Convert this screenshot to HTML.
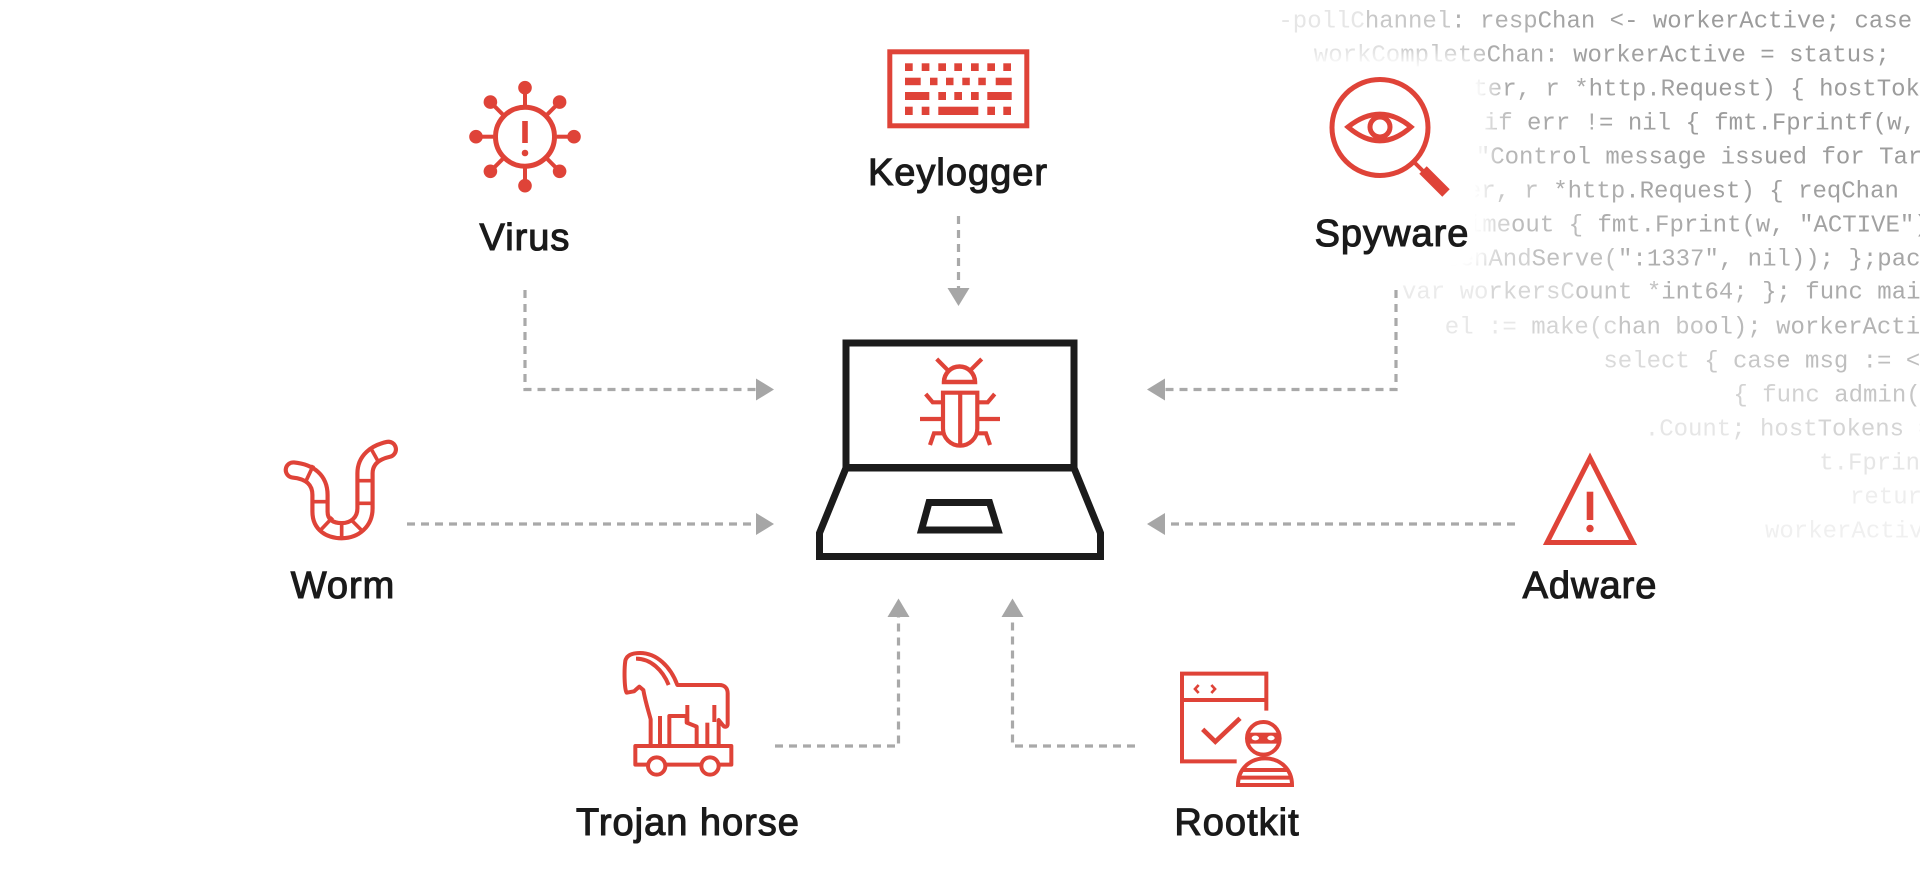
<!DOCTYPE html>
<html>
<head>
<meta charset="utf-8">
<style>
  html, body { margin:0; padding:0; }
  body { width:1920px; height:890px; overflow:hidden; background:#ffffff; position:relative; }
  svg { position:absolute; left:0; top:0; }
  .patch { position:absolute; background:#fff; box-shadow:0 0 18px 14px #fff; border-radius:20px; }
  .code text { white-space:pre; }
</style>
</head>
<body>
<svg class="code" width="1920" height="890" viewBox="0 0 1920 890" xmlns="http://www.w3.org/2000/svg">
  <g font-family="'Liberation Mono', 'DejaVu Sans Mono', monospace" font-size="24" xml:space="preserve">
    <text x="1278.4" y="27.4"><tspan fill="#e6e6e6">-pollC</tspan><tspan fill="#c8c8c8">hannel</tspan><tspan fill="#b0b0b0">: resp</tspan><tspan fill="#a4a4a4">Chan &lt;</tspan><tspan fill="#9c9c9c">- workerActive; case &lt;-</tspan></text>
    <text x="1313.8" y="61.4"><tspan fill="#dadada">workCo</tspan><tspan fill="#c0c0c0">mplete</tspan><tspan fill="#acacac">Chan: </tspan><tspan fill="#a1a1a1">worker</tspan><tspan fill="#9c9c9c">Active = status;</tspan></text>
    <text x="1415.8" y="95.4"><tspan fill="#bcbcbc">eWrite</tspan><tspan fill="#aaaaaa">r, r *</tspan><tspan fill="#a1a1a1">http.R</tspan><tspan fill="#9c9c9c">equest) { hostTokens := r.URL</tspan></text>
    <text x="1426.2" y="129.4"><tspan fill="#c0c0c0">(); if</tspan><tspan fill="#aaaaaa"> err !</tspan><tspan fill="#a2a2a2">= nil </tspan><tspan fill="#9c9c9c">{ fmt.Fprintf(w, err</tspan></text>
    <text x="1475.8" y="163.4"><tspan fill="#b6b6b6">"Contr</tspan><tspan fill="#a8a8a8">ol mes</tspan><tspan fill="#a1a1a1">sage i</tspan><tspan fill="#9c9c9c">ssued for Target %s")</tspan></text>
    <text x="1452.4" y="197.4"><tspan fill="#c4c4c4">ter, r</tspan><tspan fill="#aeaeae"> *http</tspan><tspan fill="#a6a6a6">.Reque</tspan><tspan fill="#a0a0a0">st) { reqChan</tspan></text>
    <text x="1424.6" y="231.4"><tspan fill="#d0d0d0">f time</tspan><tspan fill="#bcbcbc">out { </tspan><tspan fill="#acacac">fmt.Fp</tspan><tspan fill="#a6a6a6">rint(w</tspan><tspan fill="#a1a1a1">, "ACTIVE"); }</tspan></text>
    <text x="1445.2" y="265.4"><tspan fill="#d2d2d2">tenAnd</tspan><tspan fill="#c0c0c0">Serve(</tspan><tspan fill="#afafaf">":1337</tspan><tspan fill="#aaaaaa">", nil</tspan><tspan fill="#a6a6a6">)); };package main</tspan></text>
    <text x="1402" y="298.4"><tspan fill="#eaeaea">var wo</tspan><tspan fill="#d6d6d6">rkersC</tspan><tspan fill="#c4c4c4">ount *</tspan><tspan fill="#b2b2b2">int64;</tspan><tspan fill="#ababab"> }; func main() {</tspan></text>
    <text x="1444.8" y="333.4"><tspan fill="#e8e8e8">el := </tspan><tspan fill="#d4d4d4">make(c</tspan><tspan fill="#c4c4c4">han bo</tspan><tspan fill="#bababa">ol); w</tspan><tspan fill="#b3b3b3">orkerActive := false;</tspan></text>
    <text x="1603.4" y="367.4"><tspan fill="#dadada">select</tspan><tspan fill="#c8c8c8"> { cas</tspan><tspan fill="#bebebe">e msg := &lt;-controlChannel:</tspan></text>
    <text x="1733.4" y="401.4"><tspan fill="#d2d2d2">{ func</tspan><tspan fill="#c6c6c6"> admin(cc chan ControlMessage</tspan></text>
    <text x="1644.8" y="435.4"><tspan fill="#e6e6e6">.Count</tspan><tspan fill="#dcdcdc">; host</tspan><tspan fill="#d4d4d4">Tokens = count</tspan></text>
    <text x="1819.2" y="469.4" fill="#e6e6e6">t.Fprint(w, status)</text>
    <text x="1850" y="503.4" fill="#eeeeee">return }</text>
    <text x="1765" y="537.4" fill="#f0f0f0">workerActive = false;</text>
  </g>
</svg>
<div class="patch" style="left:1290px;top:70px;width:185px;height:195px"></div>

<svg id="main" width="1920" height="890" viewBox="0 0 1920 890" xmlns="http://www.w3.org/2000/svg">
  <!-- connectors -->
  <g fill="none" stroke="#a9a9a9" stroke-width="3.2" stroke-dasharray="8 6">
    <path d="M525,290 V389.5 H756"/>
    <path d="M958.5,216 V288"/>
    <path d="M1396,290 V389.5 H1165"/>
    <path d="M407,524 H756"/>
    <path d="M1515,524 H1165"/>
    <path d="M775,746 H898.5 V617"/>
    <path d="M1135,746 H1012.5 V617"/>
  </g>
  <g fill="#a6a6a6">
    <polygon points="774,389.5 756,378.5 756,400.5"/>
    <polygon points="958.5,306 947.5,288 969.5,288"/>
    <polygon points="1147,389.5 1165,378.5 1165,400.5"/>
    <polygon points="774,524 756,513 756,535"/>
    <polygon points="1147,524 1165,513 1165,535"/>
    <polygon points="898.5,598.5 887.5,617 909.5,617"/>
    <polygon points="1012.5,598.5 1001.5,617 1023.5,617"/>
  </g>

  <!-- laptop -->
  <g fill="none" stroke="#1b1b1b" stroke-width="7" stroke-linejoin="miter">
    <rect x="846" y="343" width="228" height="124.5"/>
    <polygon points="846,468 819.5,533 819.5,556.5 1100.5,556.5 1100.5,533 1074,468"/>
    <polygon points="929,502.5 989.5,502.5 998,530 921.5,530"/>
  </g>
  <!-- bug -->
  <g fill="none" stroke="#df4338" stroke-width="4.2" stroke-linecap="butt" stroke-linejoin="miter">
    <line x1="936.7" y1="359" x2="948.3" y2="370.7"/>
    <line x1="981.7" y1="359" x2="970" y2="370.7"/>
    <path d="M944,382 A15.5,15.5 0 0 1 975,382 Z" stroke-width="4.5"/>
    <path d="M943,392.7 H977.3 V428.5 A17.15,17.15 0 0 1 943,428.5 Z"/>
    <line x1="960.2" y1="392.7" x2="960.2" y2="445.7"/>
    <polyline points="943,402.3 932.7,402.3 925.7,394"/>
    <polyline points="977.3,402.3 987.7,402.3 994.7,394"/>
    <line x1="920" y1="419" x2="943" y2="419"/>
    <line x1="977.3" y1="419" x2="1000" y2="419"/>
    <polyline points="943,433.3 934,433.3 930,445"/>
    <polyline points="977.3,433.3 986,433.3 990,445"/>
  </g>

  <!-- virus -->
  <g stroke="#df4338" fill="#df4338">
    <circle cx="525" cy="136.7" r="29.5" fill="none" stroke-width="5"/>
    <g stroke-width="4">
      <line x1="525" y1="105" x2="525" y2="92.7"/>
      <line x1="547.4" y1="114.3" x2="556.1" y2="105.6"/>
      <line x1="556.7" y1="136.7" x2="569" y2="136.7"/>
      <line x1="547.4" y1="159.1" x2="556.1" y2="167.8"/>
      <line x1="525" y1="168.4" x2="525" y2="180.7"/>
      <line x1="502.6" y1="159.1" x2="493.9" y2="167.8"/>
      <line x1="493.3" y1="136.7" x2="481" y2="136.7"/>
      <line x1="502.6" y1="114.3" x2="493.9" y2="105.6"/>
    </g>
    <g stroke="none">
      <circle cx="525" cy="87.7" r="6.8"/>
      <circle cx="559.6" cy="102.1" r="6.8"/>
      <circle cx="574" cy="136.7" r="6.8"/>
      <circle cx="559.6" cy="171.3" r="6.8"/>
      <circle cx="525" cy="185.7" r="6.8"/>
      <circle cx="490.4" cy="171.3" r="6.8"/>
      <circle cx="476" cy="136.7" r="6.8"/>
      <circle cx="490.4" cy="102.1" r="6.8"/>
      <rect x="522.2" y="121" width="5.6" height="22"/>
      <circle cx="525" cy="153" r="3.3"/>
    </g>
  </g>

  <!-- keyboard -->
  <g fill="#df4338">
    <rect x="889.8" y="51.8" width="137" height="74" fill="none" stroke="#df4338" stroke-width="5"/>
    <rect x="905" y="63.3" width="7.7" height="7.7"/><rect x="921.7" y="63.3" width="7.7" height="7.7"/><rect x="938.3" y="63.3" width="7.7" height="7.7"/><rect x="954.3" y="63.3" width="7.7" height="7.7"/><rect x="971" y="63.3" width="7.7" height="7.7"/><rect x="987.3" y="63.3" width="7.7" height="7.7"/><rect x="1003.3" y="63.3" width="7.7" height="7.7"/>
    <rect x="905" y="77.7" width="15.7" height="7.5"/><rect x="930" y="77.7" width="7.5" height="7.5"/><rect x="946" y="77.7" width="7.5" height="7.5"/><rect x="962.3" y="77.7" width="7.5" height="7.5"/><rect x="978.3" y="77.7" width="7.5" height="7.5"/><rect x="995.7" y="77.7" width="16" height="7.5"/>
    <rect x="905" y="92" width="24.3" height="8"/><rect x="938.3" y="92" width="7.7" height="8"/><rect x="954.3" y="92" width="7.7" height="8"/><rect x="971" y="92" width="7.7" height="8"/><rect x="987.3" y="92" width="24.4" height="8"/>
    <rect x="905" y="106.7" width="7.7" height="8.3"/><rect x="921.7" y="106.7" width="7.7" height="8.3"/><rect x="938.3" y="106.7" width="40" height="8.3"/><rect x="987.3" y="106.7" width="7.7" height="8.3"/><rect x="1003.3" y="106.7" width="7.7" height="8.3"/>
  </g>

  <!-- spyware -->
  <g fill="none" stroke="#df4338">
    <circle cx="1380" cy="127.5" r="48" stroke-width="5"/>
    <path d="M1348,127 Q1380,101.4 1411,127 Q1380,154.6 1348,127 Z" stroke-width="5" stroke-linejoin="miter"/>
    <circle cx="1380" cy="127" r="10" stroke-width="5"/>
    <line x1="1412" y1="160" x2="1426" y2="174" stroke-width="4"/>
    <line x1="1423" y1="170" x2="1446" y2="193" stroke-width="10.5"/>
  </g>

  <!-- adware -->
  <g>
    <polygon points="1590,458 1633,542.5 1547,542.5" fill="none" stroke="#df4338" stroke-width="5" stroke-linejoin="miter"/>
    <rect x="1586.7" y="491.7" width="6.6" height="28.3" fill="#df4338"/>
    <circle cx="1590" cy="528.5" r="3.7" fill="#df4338"/>
  </g>

  <!-- worm -->
  <svg x="260" y="420" width="200" height="200" viewBox="0 0 600 600">
    <path d="M100,150 C150,155 180,180 180,225 L180,275 C180,315 210,332 245,332 C285,332 315,305 315,265 L315,160 C315,120 345,97 385,88" fill="none" stroke="#df4338" stroke-width="58" stroke-linecap="round" stroke-linejoin="round"/>
    <path d="M100,150 C150,155 180,180 180,225 L180,275 C180,315 210,332 245,332 C285,332 315,305 315,265 L315,160 C315,120 345,97 385,88" fill="none" stroke="#ffffff" stroke-width="33" stroke-linecap="round" stroke-linejoin="round"/>
    <g stroke="#df4338" stroke-width="11">
      <line x1="137" y1="185" x2="160" y2="136"/>
      <line x1="153" y1="245" x2="207" y2="245"/>
      <line x1="182" y1="330" x2="218" y2="292"/>
      <line x1="245" y1="306" x2="245" y2="358"/>
      <line x1="274" y1="300" x2="310" y2="336"/>
      <line x1="288" y1="250" x2="342" y2="250"/>
      <line x1="288" y1="182" x2="342" y2="182"/>
      <line x1="332" y1="84" x2="356" y2="127"/>
    </g>
  </svg>

  <!-- trojan horse -->
  <svg x="560" y="590" width="380" height="260" viewBox="0 0 1140 780">
    <g fill="none" stroke="#df4338" stroke-width="12" stroke-linejoin="round" stroke-linecap="butt">
      <path d="M272,462 V388 C266,365 256,335 250,300 L238,290 L222,304 L200,308 C193,298 192,240 196,212 C200,196 214,189 240,189 C290,189 332,230 352,285 H478 C494,285 503,295 503,310 V402 C503,411 494,413 489,406 L476,390 V462"/>
      <path d="M228,206 C272,206 308,240 326,285"/>
      <path d="M328,462 V378 H380 V398 L410,410 V462"/>
      <path d="M382,345 V398"/>
      <path d="M463,345 V396"/>
      <path d="M300,462 V378"/>
      <path d="M442,462 V398"/>
      <rect x="226" y="468" width="288" height="56"/>
      <circle cx="290" cy="528" r="26" fill="#ffffff"/>
      <circle cx="450" cy="528" r="26" fill="#ffffff"/>
    </g>
  </svg>

  <!-- rootkit -->
  <svg x="980" y="590" width="380" height="260" viewBox="0 0 1140 780">
    <g fill="none" stroke="#df4338" stroke-width="12" stroke-linejoin="miter">
      <path d="M859,362 V251 H606 V514 H770"/>
      <path d="M606,330 H859"/>
      <path d="M656,285 L645,297 L656,309" stroke-width="8"/>
      <path d="M694,285 L705,297 L694,309" stroke-width="8"/>
      <path d="M668,418 L706,455 L780,385" stroke-width="14"/>
      <path d="M774,585 C774,535 812,505 855,505 C898,505 936,535 936,585 Z" fill="#ffffff"/>
      <line x1="786" y1="540" x2="924" y2="540"/>
      <line x1="778" y1="563" x2="932" y2="563"/>
      <circle cx="850" cy="445" r="49" fill="#ffffff"/>
    </g>
    <rect x="803" y="428" width="94" height="33" fill="#df4338"/>
    <ellipse cx="826" cy="444" rx="11" ry="7" fill="#ffffff"/>
    <ellipse cx="873" cy="444" rx="11" ry="7" fill="#ffffff"/>
  </svg>

  <!-- labels -->
  <g font-family="'Liberation Sans', Arial, sans-serif" font-size="38" fill="#1a1a1a" stroke="#1a1a1a" stroke-width="1.1" text-anchor="middle" letter-spacing="1">
    <text x="525" y="250">Virus</text>
    <text x="958" y="185">Keylogger</text>
    <text x="1392" y="246">Spyware</text>
    <text x="343" y="598">Worm</text>
    <text x="1590" y="598">Adware</text>
    <text x="688" y="835">Trojan horse</text>
    <text x="1237" y="835">Rootkit</text>
  </g>
</svg>
</body>
</html>
